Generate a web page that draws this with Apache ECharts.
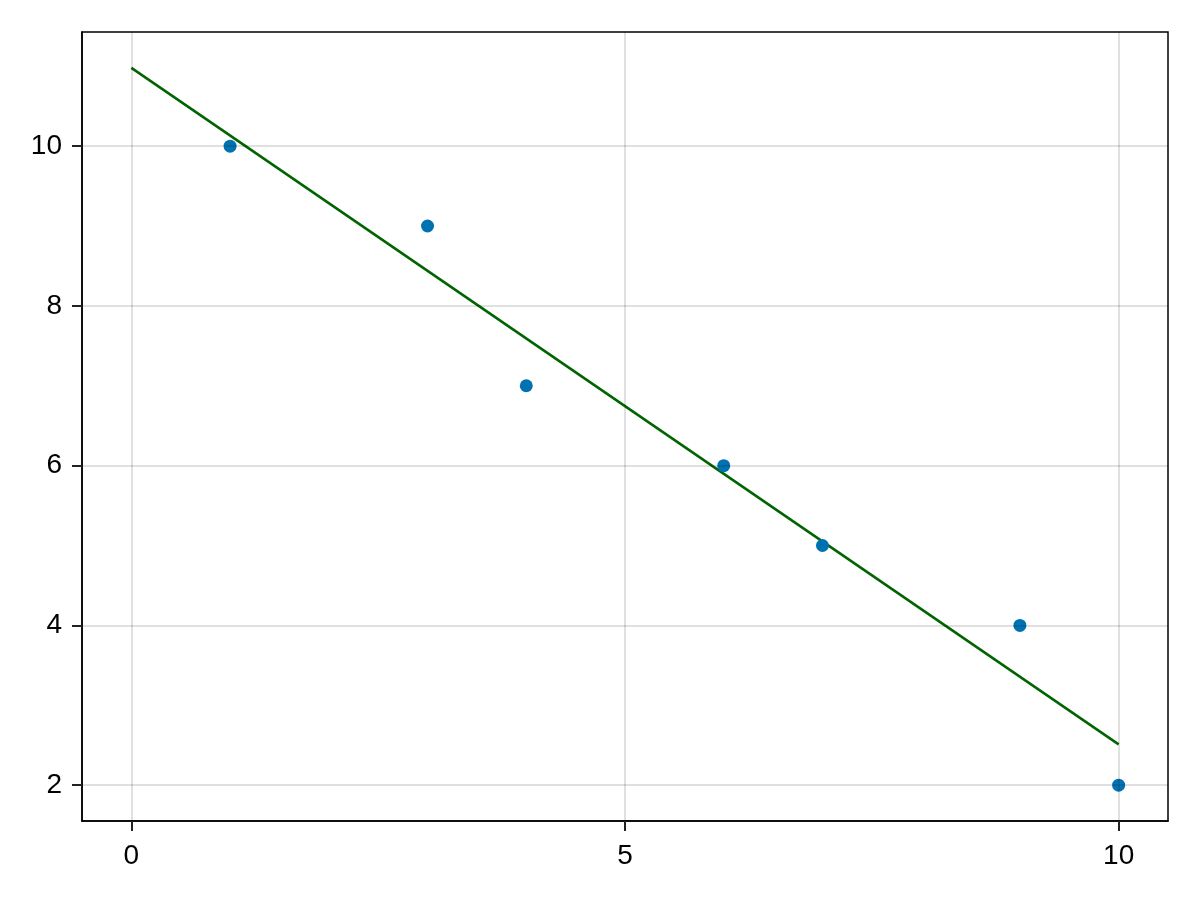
<!DOCTYPE html>
<html>
<head>
<meta charset="utf-8">
<script src="https://cdn.jsdelivr.net/npm/echarts@6/dist/echarts.min.js"></script>
<style>html,body{margin:0;padding:0;background:#fff}#c{width:1200px;height:900px}</style>
</head>
<body>
<div id="c"></div>
<script>
// Data
var pointsX = [1, 3, 4, 6, 7, 9, 10];
var pointsY = [10, 9, 7, 6, 5, 4, 2];
var fitLineX = [0, 10];
var fitLineY = [10.98, 2.51];
var xTicks = [0, 5, 10];
var yTicks = [2, 4, 6, 8, 10];

var chart = echarts.init(document.getElementById('c'), null, {renderer: 'canvas'});
var font = '"Liberation Sans", Arial, Helvetica, sans-serif';
var gridColor = 'rgba(0,0,0,0.12)';

var scatterData = pointsX.map(function (x, i) { return [x, pointsY[i]]; });
var lineData = fitLineX.map(function (x, i) { return [x, fitLineY[i]]; });
var gridLines = xTicks.map(function (v) { return {xAxis: v}; })
  .concat(yTicks.map(function (v) { return {yAxis: v}; }));

chart.setOption({
  animation: false,
  backgroundColor: '#ffffff',
  grid: {
    left: 82, right: 32, top: 32, bottom: 79,
    show: true, borderColor: '#000', borderWidth: 1.5, backgroundColor: 'transparent'
  },
  xAxis: {
    type: 'value', min: -0.5, max: 10.5, position: 'bottom',
    axisLine: {show: true, onZero: false, lineStyle: {color: '#000', width: 1.5}},
    splitLine: {show: false},
    axisTick: {show: true, inside: false, length: 10, customValues: xTicks,
      lineStyle: {color: '#222', width: 2}},
    axisLabel: {show: true, customValues: xTicks, margin: 21, fontSize: 28,
      fontFamily: font, color: '#000'}
  },
  yAxis: {
    type: 'value', min: 1.551, max: 11.429, position: 'left',
    axisLine: {show: true, onZero: false, lineStyle: {color: '#000', width: 1.5}},
    splitLine: {show: false},
    axisTick: {show: true, inside: false, length: 10, customValues: yTicks,
      lineStyle: {color: '#222', width: 2}},
    axisLabel: {show: true, customValues: yTicks, margin: 20, fontSize: 28,
      fontFamily: font, color: '#000'}
  },
  series: [
    {
      type: 'scatter', data: [], z: 1, silent: true,
      markLine: {
        silent: true, symbol: ['none', 'none'], animation: false,
        label: {show: false},
        lineStyle: {color: gridColor, width: 2, type: 'solid'},
        emphasis: {disabled: true},
        data: gridLines
      }
    },
    {
      type: 'line', data: lineData, z: 3, showSymbol: false, symbol: 'none',
      lineStyle: {color: '#006400', width: 2.5}, silent: true
    },
    {
      type: 'scatter', data: scatterData, z: 4, symbolSize: 13,
      itemStyle: {color: '#0072B2', opacity: 1}, silent: true
    }
  ]
});
</script>
</body>
</html>
